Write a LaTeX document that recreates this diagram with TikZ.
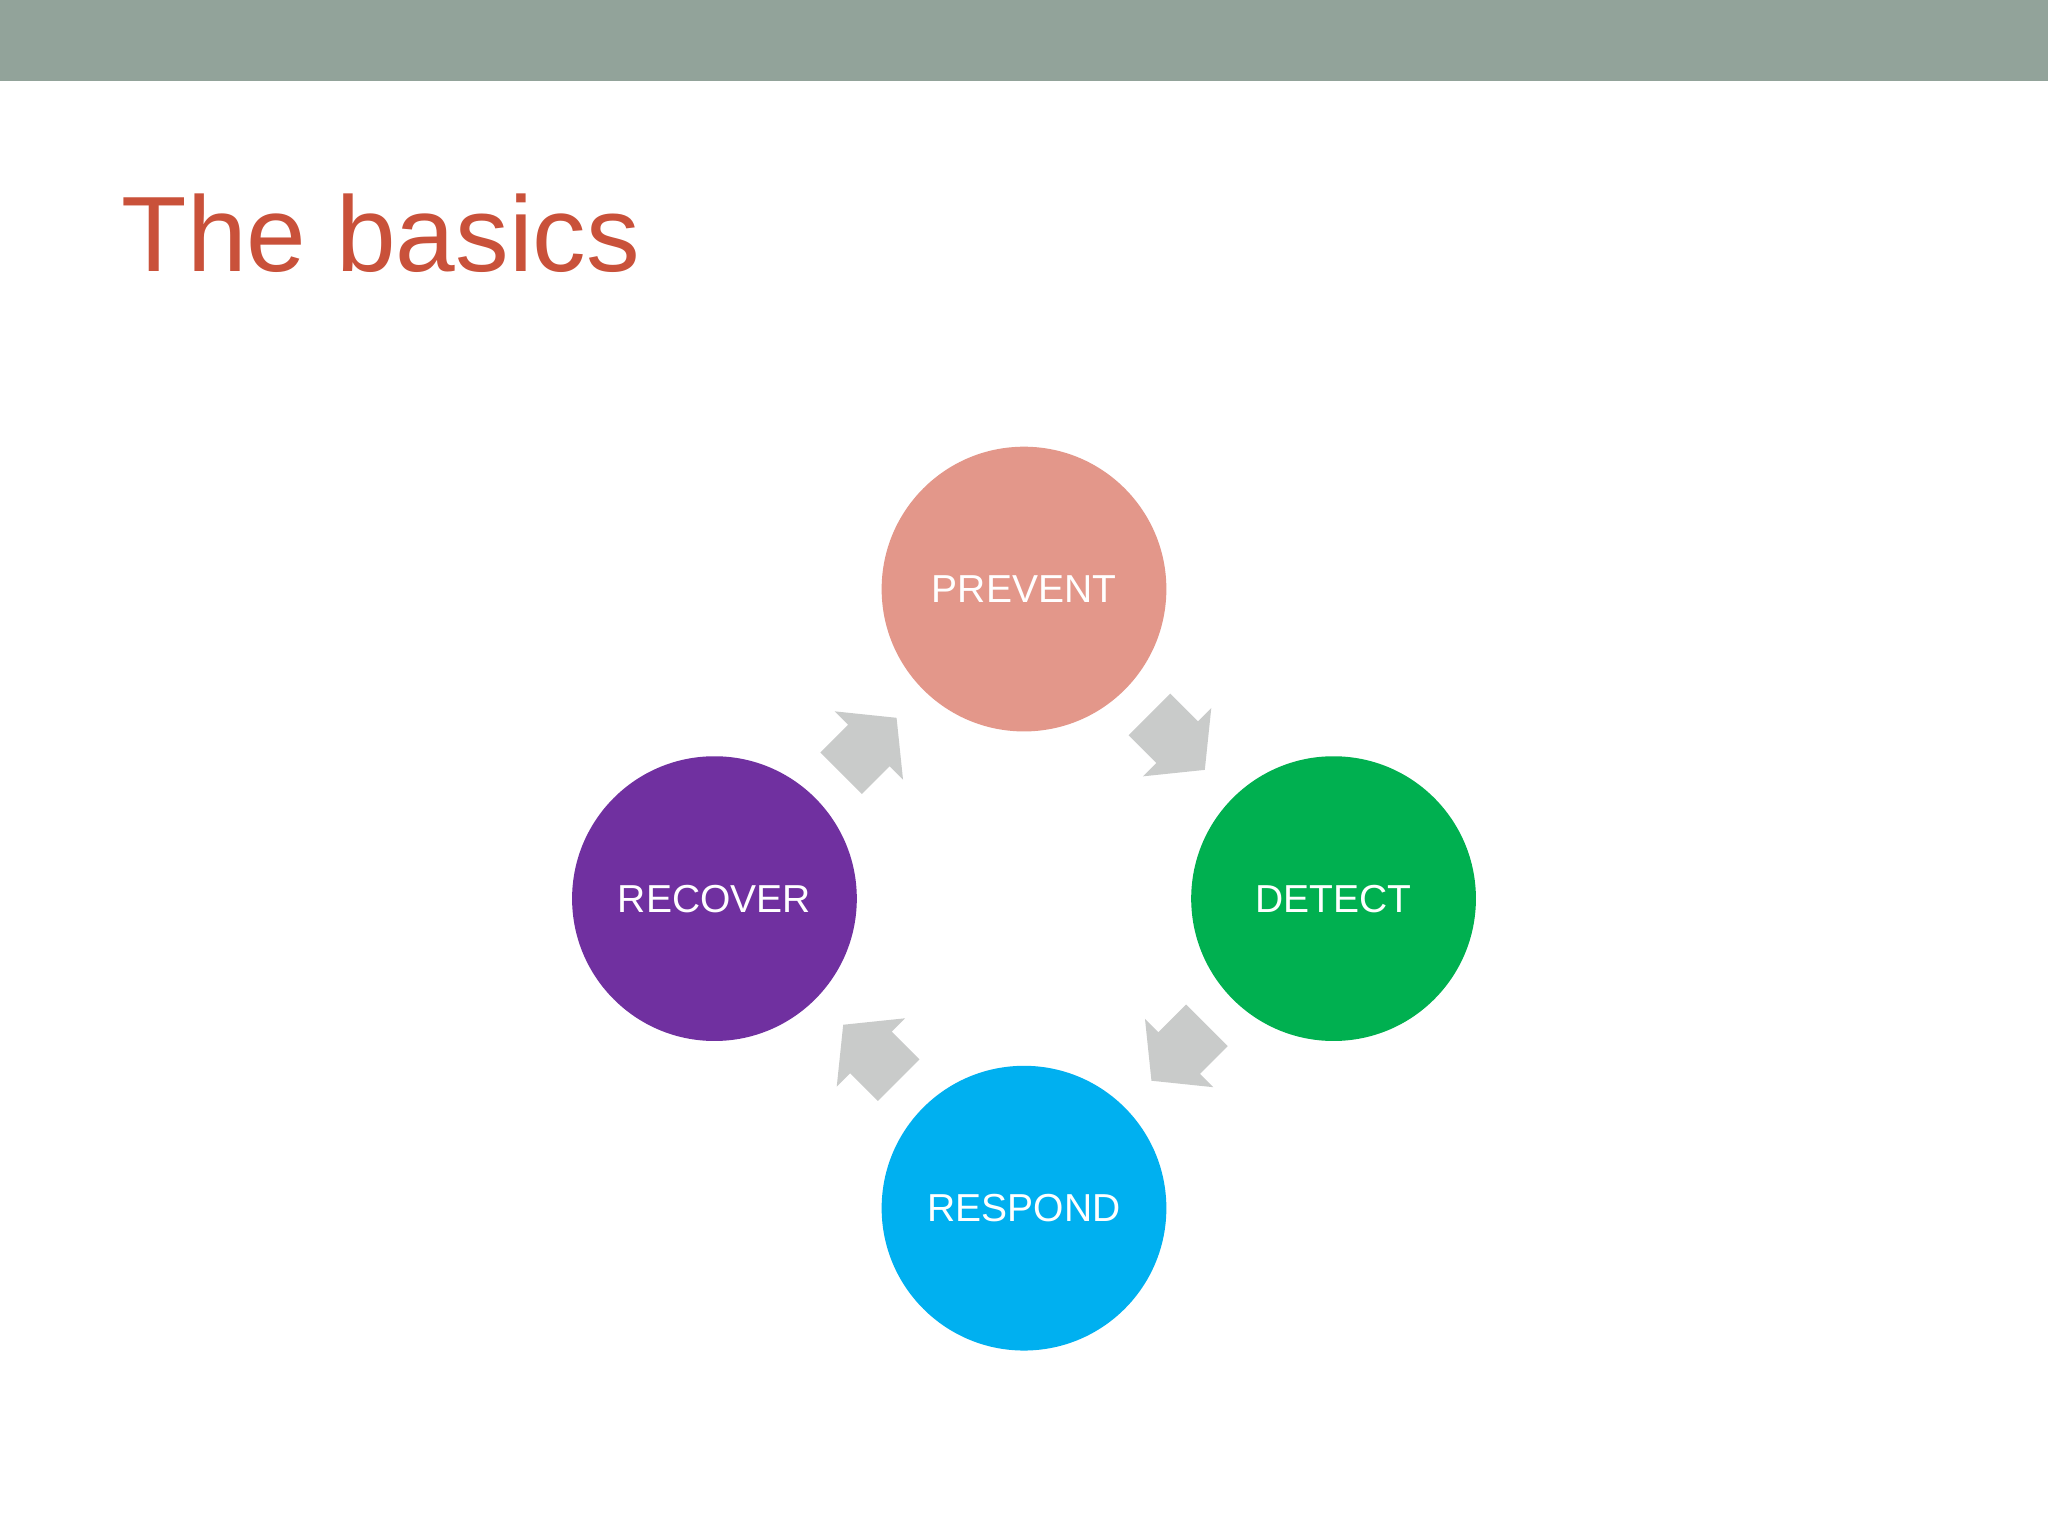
\documentclass[tikz,border=0pt]{standalone}
\usepackage{fontspec}
\setmainfont{Liberation Sans}
\definecolor{barc}{HTML}{92A39A}
\definecolor{titlec}{HTML}{C9513A}
\definecolor{prevc}{HTML}{E3978A}
\definecolor{detc}{HTML}{00B050}
\definecolor{resc}{HTML}{00B0F0}
\definecolor{recc}{HTML}{7030A0}
\definecolor{arrc}{HTML}{C9CBCA}
\tikzset{
  stage/.style={circle, minimum size=218*0.02cm, inner sep=0pt, text=white, font=\fontsize{17}{20}\selectfont},
  cyclearrow/.style={fill=arrc, draw=none}
}
\newcommand{\blockarrow}[3]{%
  \begin{scope}[shift={(#1,#2)}, rotate=#3]
    \fill[cyclearrow] (0,-22.5)--(30,-22.5)--(30,-37)--(60,0)--(30,37)--(30,22.5)--(0,22.5)--cycle;
  \end{scope}}
\begin{document}
\begin{tikzpicture}[x=0.02cm,y=-0.02cm]
\useasboundingbox (0,0) rectangle (1568,1176);
\fill[white] (0,0) rectangle (1568,1176);
\fill[barc] (0,0) rectangle (1568,62);
\node[anchor=base west, inner sep=0pt, text=titlec, font=\fontsize{46.7}{50}\selectfont] (title) at (93,208) {The basics};
\node[stage, fill=prevc] (prevent) at (784,451) {PREVENT};
\node[stage, fill=detc] (detect) at (1021,688) {DETECT};
\node[stage, fill=resc] (respond) at (784,925) {RESPOND};
\node[stage, fill=recc] (recover) at (547,688) {RECOVER};
\blockarrow{880}{547}{-45}
\blockarrow{924}{785}{-135}
\blockarrow{688}{827}{135}
\blockarrow{644}{592}{45}
\end{tikzpicture}
\end{document}
